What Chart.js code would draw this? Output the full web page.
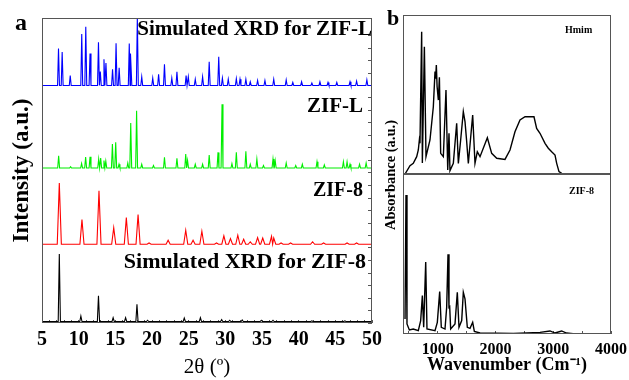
<!DOCTYPE html>
<html><head><meta charset="utf-8">
<script src="https://cdn.jsdelivr.net/npm/chart.js@4/dist/chart.umd.min.js"></script>
<style>
html,body{margin:0;padding:0;background:#fff;}
#wrap{position:relative;width:629px;height:380px;overflow:hidden;font-family:'Liberation Serif',serif;background:#fff;}
canvas{position:absolute;}
.lbl{position:absolute;font-weight:bold;white-space:nowrap;line-height:1;color:#000;}
</style></head><body>
<div id="wrap">
<canvas id="cA" width="390" height="380" style="left:0;top:0"></canvas>
<canvas id="cB1" width="249" height="180" style="left:380px;top:0"></canvas>
<canvas id="cB2" width="249" height="220" style="left:380px;top:160px"></canvas>
<div class="lbl" style="left:15px;top:10px;font-size:24px">a</div>
<div class="lbl" style="left:387px;top:7px;font-size:22px">b</div>
<div class="lbl" style="right:257px;top:18px;font-size:21px">Simulated XRD for ZIF-L</div>
<div class="lbl" style="right:266px;top:95px;font-size:21px">ZIF-L</div>
<div class="lbl" style="right:266px;top:179px;font-size:20px">ZIF-8</div>
<div class="lbl" style="right:263px;top:250px;font-size:22px">Simulated XRD for ZIF-8</div>
<div class="lbl" style="left:565px;top:25px;font-size:10px">Hmim</div>
<div class="lbl" style="left:569px;top:186px;font-size:10px">ZIF-8</div>
<div class="lbl" style="left:290px;top:165px;width:200px;height:20px;line-height:20px;text-align:center;font-size:14.5px;transform:rotate(-90deg);">Absorbance (a.u.)</div>
</div>
<script>
// ---------- Data: XRD (panel a), peak positions (2θ) and heights (a.u.) ----------
const simZifLPos = [7.25,7.75,8.85,10.42,10.97,11.55,12.7,12.95,13.45,13.72,14.62,15.1,15.52,16.9,17.12,18.0,18.6,20.1,20.9,21.7,22.7,23.4,24.65,24.95,25.9,26.9,27.8,29.1,29.6,30.4,31.5,32.0,32.8,33.4,34.4,35.4,36.6,38.3,39.2,40.4,41.8,42.9,44.0,45.2,47.0,47.9,49.3];
const simZifLInt = [2.95,2.68,0.8,4.12,4.7,2.56,3.46,1.12,2.1,1.8,1.3,3.38,1.42,3.36,2.56,5.5,0.7,0.6,0.9,1.7,0.6,1.1,0.8,0.7,0.5,0.7,1.9,2.3,0.6,0.5,0.55,0.5,0.5,0.3,0.4,0.4,0.5,0.45,0.25,0.3,0.2,0.3,0.25,0.25,0.3,0.35,0.45];

const zifLPos = [7.27,8.9,10.4,10.95,11.55,12.73,13.0,13.45,13.7,14.6,15.05,15.5,16.7,17.1,17.9,18.6,20.2,21.7,23.4,24.6,24.85,25.9,26.9,27.8,29.0,29.55,30.9,31.5,32.8,33.4,34.3,35.2,36.5,36.8,38.3,39.6,40.5,42.5,43.5,46.1,46.6,47.0,48.3,49.2];
const zifLInt = [0.98,0.1,0.37,0.88,0.9,0.72,0.8,0.6,0.55,1.92,2.05,0.3,0.4,3.6,4.58,0.3,0.2,0.85,0.78,1.12,0.6,0.3,0.3,1.04,1.25,5.1,0.35,1.25,1.33,0.3,0.72,0.2,0.72,0.6,0.4,0.2,0.3,0.5,0.25,0.5,0.5,0.3,0.3,0.4];

const zif8Pos = [7.36,10.45,12.77,14.78,16.5,18.1,19.6,22.2,24.6,25.6,26.8,28.8,29.8,30.7,31.7,32.5,33.4,34.4,35.1,36.3,36.6,37.6,38.9,41.9,43.4,46.6,47.9];
const zif8Int = [4.9,1.97,4.27,1.33,2.13,2.37,0.1,0.32,1.12,0.32,1.04,0.1,0.67,0.45,0.72,0.4,0.2,0.53,0.5,0.64,0.5,0.1,0.1,0.2,0.1,0.1,0.1];

const simZif8Pos = [7.36,10.3,12.7,14.7,16.4,17.95,19.4,24.4,26.6,29.5,30.6,32.3,34.9,36.5,41.8,46.3];
const simZif8Int = [5.4,0.44,2.06,0.3,0.3,1.37,0.1,0.28,0.3,0.15,0.1,0.12,0.1,0.1,0.05,0.05];

const xrdTickLabels = [5,10,15,20,25,30,35,40,45,50];

// ---------- Data: FTIR (panel b) ----------
const hmimWn  = [435,521,578,637,665,683,694,723,735,770,798,867,925,954,965,977,990,1012,1030,1052,1098,1144,1174,1196,1213,1271,1329,1358,1398,1444,1473,1500,1531,1606,1646,1686,1733,1860,1935,2022,2165,2252,2338,2425,2512,2598,2667,2713,2771,2858,2915,2973,3031,3060,3100,3146];
const hmimAbs = [0,5.2,6.7,10.9,15.1,21.4,19.3,89.5,6.9,80.1,10.9,21.4,42.3,64.4,60,68.6,55,46.5,60.8,13.0,10.9,52.8,2.5,25.6,2.1,6.7,31.9,6.7,21.4,39.2,33,21.4,6.7,37.1,6.7,14.0,10.9,22.8,13.0,9.9,9.2,15.1,26.6,34.0,36.0,36.0,36.0,28.7,25.6,19.3,16.2,14.0,11.9,6.7,1.5,0.4];

const zif8Wn  = [435,452,469,510,578,665,706,735,758,793,815,954,994,1035,1063,1127,1156,1179,1196,1208,1225,1300,1340,1369,1416,1444,1473,1513,1560,1606,1635,1733,2310,2771,2944,3030,3146,3229,3344];
const zif8Abs = [9.4,86.8,6.3,2.5,3.1,2.1,8.4,24.0,4.2,45.0,3.1,2.1,7.3,26.6,4.2,3.1,16.7,49.8,16.7,17.1,3.1,6.3,26.1,4.2,8.4,26.1,22.0,4.2,3.5,7.3,1.6,0.6,0.4,1.0,1.9,0.6,1.9,0.6,0.2];

const irTickValues = [500,1000,1500,2000,2500,3000,3500,4000];

// stacking offsets of the four XRD traces
const offsets = {simZifL: 19.0, zifL: 12.4, zif8: 6.3, simZif8: 0.12};

function buildPattern(pos, hts, base, w){
  const pts = [{x:5, y:base}];
  for (let i = 0; i < pos.length; i++){
    const p = pos[i];
    const lo = i > 0 ? Math.max(p - w, (pos[i-1] + p) / 2) : p - w;
    const hi = i < pos.length - 1 ? Math.min(p + w, (pos[i+1] + p) / 2) : p + w;
    pts.push({x:lo, y:base}, {x:p, y:base + hts[i]}, {x:hi, y:base});
  }
  pts.push({x:50, y:base});
  return pts;
}
function pairs(xs, ys){ return xs.map((x,i)=>({x:x, y:ys[i]})); }

Chart.defaults.font.family = "'Liberation Serif', serif";
Chart.defaults.color = '#000';

const boxPlugin = {
  id: 'box',
  afterDatasetsDraw(chart){
    const {ctx, chartArea:a} = chart;
    ctx.save();
    ctx.strokeStyle = '#555';
    ctx.lineWidth = 1;
    ctx.strokeRect(Math.round(a.left)+0.5, Math.round(a.top)+0.5, Math.round(a.right-a.left)-1, Math.round(a.bottom-a.top)-1);
    ctx.restore();
  }
};

const lineDs = (data, color, w) => ({data, borderColor: color, borderWidth: w, pointRadius: 0, tension: 0, fill: false});

// ---------- Panel a ----------
new Chart(document.getElementById('cA'), {
  type: 'line',
  data: { datasets: [
    lineDs(buildPattern(simZifLPos, simZifLInt, offsets.simZifL, 0.13), '#0000ff', 1.1),
    lineDs(buildPattern(zifLPos, zifLInt, offsets.zifL, 0.13), '#00ee00', 1.1),
    lineDs(buildPattern(zif8Pos, zif8Int, offsets.zif8, 0.28), '#ff0000', 1.1),
    lineDs(buildPattern(simZif8Pos, simZif8Int, offsets.simZif8, 0.15), '#000000', 1.1)
  ]},
  options: {
    responsive: false, animation: false, devicePixelRatio: 1,
    layout: {padding: {top: 18, left: 0, right: 0, bottom: 0}},
    plugins: {legend: {display: false}, tooltip: {enabled: false}},
    scales: {
      x: {
        type: 'linear', min: 5, max: 50, position: 'bottom',
        afterFit: s => { s.height = 57; s.paddingLeft = 0; s.paddingRight = 0; },
        ticks: {stepSize: 1, autoSkip: false, maxRotation: 0, padding: 8, color: '#000',
          font: {size: 20, weight: 'bold', lineHeight: 1.2},
          callback: v => xrdTickLabels.includes(v) ? String(v) : ''},
        grid: {drawOnChartArea: false, tickLength: -3, color: '#555'},
        border: {display: false},
        title: {display: true, text: '2θ (º)', color: '#000', font: {size: 21, lineHeight: 1.2}, padding: {top: 0, bottom: 0}}
      },
      y: {
        min: 0, max: 24.4, position: 'left',
        afterFit: s => { s.width = 42; },
        ticks: {display: false},
        grid: {display: false},
        border: {display: false},
        title: {display: true, text: 'Intensity (a.u.)', color: '#000', font: {size: 23, weight: 'bold', lineHeight: 1.2}, padding: {top: 8, bottom: 0}}
      },
      y2: {
        min: 0, max: 24.4, position: 'right',
        afterFit: s => { s.width = 18; },
        ticks: {display: false, stepSize: 1},
        grid: {drawOnChartArea: false, tickLength: -4, color: '#555'},
        border: {display: false}
      }
    }
  },
  plugins: [boxPlugin]
});

// ---------- Panel b, top (Hmim) ----------
new Chart(document.getElementById('cB1'), {
  type: 'line',
  data: { datasets: [ lineDs(pairs(hmimWn, hmimAbs), '#000', 1.4) ] },
  options: {
    responsive: false, animation: false, devicePixelRatio: 1,
    layout: {padding: {top: 15, left: 23, right: 18, bottom: 6}},
    plugins: {legend: {display: false}, tooltip: {enabled: false}},
    scales: {
      x: {type: 'linear', min: 400, max: 4000, display: false},
      y: {min: 0, max: 100, display: false}
    }
  },
  plugins: [boxPlugin]
});

// ---------- Panel b, bottom (ZIF-8) ----------
new Chart(document.getElementById('cB2'), {
  type: 'line',
  data: { datasets: [ lineDs(pairs(zif8Wn, zif8Abs), '#000', 1.4) ] },
  options: {
    responsive: false, animation: false, devicePixelRatio: 1,
    layout: {padding: {top: 14, left: 23, right: 18, bottom: 0}},
    plugins: {legend: {display: false}, tooltip: {enabled: false}},
    scales: {
      x: {
        type: 'linear', min: 400, max: 4000, position: 'bottom',
        afterBuildTicks: s => { s.ticks = irTickValues.map(v => ({value: v})); },
        afterFit: s => { s.height = 46; s.paddingLeft = 0; s.paddingRight = 0; },
        ticks: {autoSkip: false, maxRotation: 0, padding: 9, color: '#000',
          font: {size: 16, weight: 'bold', lineHeight: 1.2},
          callback: v => (v % 1000 === 0) ? String(v) : ''},
        grid: {drawOnChartArea: false, tickLength: -3, color: '#555'},
        border: {display: false},
        title: {display: true, text: 'Wavenumber (Cm⁻¹)', color: '#000', font: {size: 18, weight: 'bold', lineHeight: 1.2}, padding: {top: 0, bottom: 4}}
      },
      y: {min: 0, max: 100, display: false}
    }
  },
  plugins: [boxPlugin]
});
</script>
</body></html>
